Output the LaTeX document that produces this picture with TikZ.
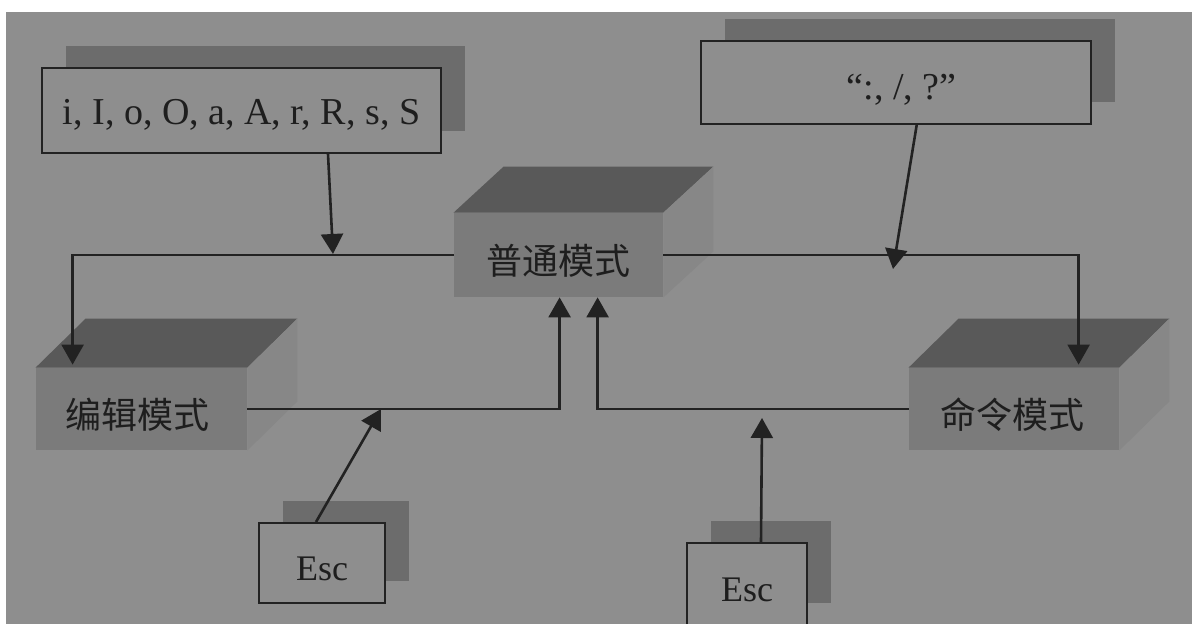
\documentclass[tikz,border=0pt]{standalone}
\usepackage{fontspec}
\setmainfont{Liberation Serif}
\newfontfamily\cjk{Noto Sans CJK SC}
\usetikzlibrary{calc,arrows.meta,shadows}
\definecolor{bgc}{HTML}{8E8E8E}
\definecolor{shc}{HTML}{6C6C6C}
\definecolor{frontc}{HTML}{7B7B7B}
\definecolor{topc}{HTML}{595959}
\definecolor{sidec}{HTML}{878787}
\definecolor{linec}{HTML}{222222}
\definecolor{txtc}{HTML}{1E1E1E}
\newcommand\mycube[3]{%
  \fill[topc] (#1.north west) -- ++(#2,#3) -- ($(#1.north east)+(#2,#3)$) -- (#1.north east) -- cycle;
  \fill[sidec] (#1.north east) -- ++(#2,#3) -- ($(#1.south east)+(#2,#3)$) -- (#1.south east) -- cycle;}
\begin{document}
\begin{tikzpicture}[x=0.5pt,y=-0.5pt,
  keybox/.style={draw=linec, line width=1pt, fill=bgc, text=txtc, inner sep=0pt,
    font=\fontsize{19}{22}\selectfont, text depth=0pt,
    general shadow={fill=shc, draw=none, shadow xshift=12pt, shadow yshift=11pt}},
  modebox/.style={fill=frontc, draw=none, text=txtc, inner sep=0pt,
    text height=19.5pt, text depth=0pt,
    minimum width=105pt, minimum height=41pt, font=\cjk\fontsize{18}{20}\selectfont},
  conn/.style={draw=linec, line width=1.3pt, -{Triangle[length=10pt,width=11pt]}}]
\useasboundingbox (0,0) rectangle (1192,624);
\fill[white] (0,0) rectangle (1192,624);
\fill[bgc] (6,12) rectangle (1192,624);
% key boxes
\node[keybox, minimum width=199.5pt, minimum height=42.5pt, text height=14.5pt] (b1) at (241.5,110.5) {i, I, o, O, a, A, r, R, s, S};
\node[keybox, minimum width=195pt, minimum height=41.5pt, text height=17pt] (b2) at (895.7,82.5) {\hspace*{6pt}“:, /, ?”};
\node[keybox, minimum width=63pt, minimum height=40pt, text height=17pt, font=\fontsize{18}{21}\selectfont] (e1) at (322,563) {Esc};
\node[keybox, minimum width=60pt, minimum height=41pt, text height=17pt, font=\fontsize{18}{21}\selectfont] (e2) at (747,584) {Esc};
% mode boxes
\node[modebox, minimum width=104.5pt, minimum height=42pt] (pt) at (558.5,255) {普通模式};
\mycube{pt}{50}{-46}
\node[modebox, minimum width=105.5pt] (ed) at (141.5,409) {编辑模式\hspace*{4pt}};
\mycube{ed}{50}{-49}
\node[modebox] (cm) at (1014,409) {命令模式\hspace*{2pt}};
\mycube{cm}{50}{-49}
% connectors
\draw[conn] (pt.west) -| ($(ed.north west)+(37,-3)$);
\draw[conn] (pt.east) -| ($(cm.north west)+(170,-3)$);
\coordinate (j1) at (333,254);
\draw[conn] ($(b1.south west)+(287,0)$) -- (j1);
\coordinate (j2) at (893,269);
\draw[conn] ($(b2.south west)+(217,0)$) -- (j2);
\draw[conn] (ed.east) -| ($(pt.south west)+(106,0)$);
\draw[conn] (cm.west) -| ($(pt.south west)+(144,0)$);
\coordinate (j3) at (381,409);
\draw[conn] ($(e1.north west)+(58,0)$) -- (j3);
\coordinate (j4) at (762,418);
\draw[conn] ($(e2.north west)+(75,0)$) -- (j4);
\end{tikzpicture}
\end{document}
